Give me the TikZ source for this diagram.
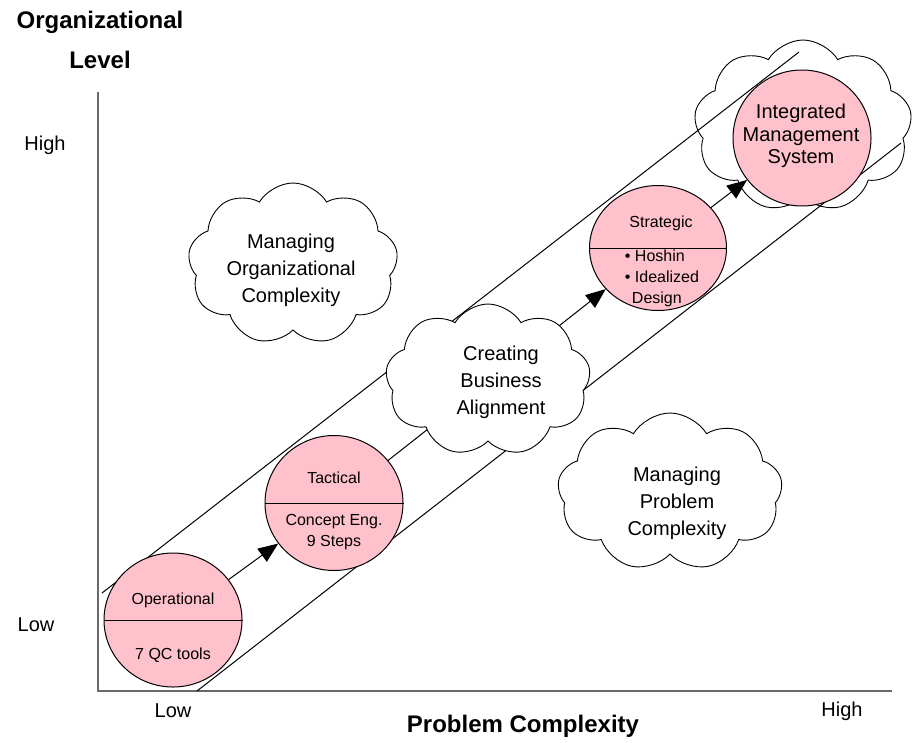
\documentclass[tikz,border=0pt]{standalone}
\usepackage{fontspec}
\setmainfont{Liberation Sans}
\usepackage{tikz}
\usetikzlibrary{shapes.geometric,shapes.symbols,arrows.meta}
\definecolor{stagepink}{RGB}{255,193,204}
\definecolor{axisgray}{RGB}{105,105,105}
\tikzset{
  stage/.style={draw,ellipse,fill=stagepink,line width=1pt,inner sep=0pt},
  puff/.style={draw,cloud,cloud puffs=9,cloud puff arc=118,cloud ignores aspect,fill=white,line width=0.9pt,inner sep=0pt},
  stagetext/.style={font=\fontsize{16}{21}\selectfont,align=center,inner sep=0pt},
  cloudtext/.style={font=\fontsize{20}{27}\selectfont,align=center,inner sep=0pt},
  ticktext/.style={font=\fontsize{20}{24}\selectfont,inner sep=0pt},
  axistitle/.style={font=\bfseries\fontsize{24}{29}\selectfont,inner sep=0pt},
}

\begin{document}
\begin{tikzpicture}[x=1pt,y=-1pt,>={Triangle[length=20pt,width=16pt]}]
  \useasboundingbox (0,0) rectangle (912,742);
  \coordinate (orig) at (98,691);
  \coordinate (ytop) at (98,92);
  \coordinate (xend) at (892,691);
  \coordinate (bandA1) at (102,593);
  \coordinate (bandA2) at (799,52);
  \coordinate (bandB1) at (197,691);
  \coordinate (bandB2) at (901,143);

  \draw[axisgray,line width=1.6pt] (ytop) -- (orig) -- (xend);
  \node[axistitle] (ylab1) at (100,22) {Organizational};
  \node[axistitle] (ylab2) at (100,60) {Level};
  \node[axistitle] (xlab) at (523,726) {Problem Complexity};
  \node[ticktext] (yhigh) at (45,145) {High};
  \node[ticktext] (ylow) at (36,625) {Low};
  \node[ticktext] (xlow) at (173,711) {Low};
  \node[ticktext] (xhigh) at (842,711) {High};

  \node[puff,minimum width=218pt,minimum height=172pt] (imsCloud) at (803,126) {};
  \draw[line width=1pt] (bandA1) -- (bandA2);
  \draw[line width=1pt] (bandB1) -- (bandB2);

  \node[stage,minimum width=138pt,minimum height=134pt] (op) at (173,620) {};
  \node[stage,minimum width=138pt,minimum height=135pt] (tac) at (334,503) {};
  \node[stage,minimum width=137pt,minimum height=125pt] (strat) at (658,248) {};
  \node[stage,minimum width=138pt,minimum height=136pt] (ims) at (802,138) {};
  \draw[line width=1pt] (op.west) -- (op.east);
  \draw[line width=1pt] (tac.west) -- (tac.east);
  \draw[line width=1pt] (strat.west) -- (strat.east);

  \node[stagetext] (opTop) at (173,600) {Operational};
  \node[stagetext] (opBot) at (173,655) {7 QC tools};
  \node[stagetext] (tacTop) at (334,478) {Tactical};
  \node[stagetext] (tacBot) at (334,532) {Concept Eng.\\9 Steps};
  \node[stagetext] (stratTop) at (661,223) {Strategic};
  \node[stagetext,align=left] (stratBot) at (662,278) {\textbullet\ Hoshin\\\textbullet\ Idealized\\\hspace{7pt}Design};
  \node[font=\fontsize{20}{22.5}\selectfont,align=center,inner sep=0pt] (imsText) at (801,136) {Integrated\\Management\\System};

  \draw[->,line width=1pt] (op) -- (tac);
  \draw[->,line width=1pt] (tac) -- (strat);
  \draw[->,line width=1pt] (strat) -- (ims);

  \node[puff,minimum width=205pt,minimum height=152pt] (alignCloud) at (488,380) {};
  \node[cloudtext] (alignText) at (501,382) {Creating\\Business\\Alignment};
  \node[puff,minimum width=210pt,minimum height=162pt] (orgCloud) at (293,264) {};
  \node[cloudtext] (orgText) at (291,270) {Managing\\Organizational\\Complexity};
  \node[puff,minimum width=225pt,minimum height=158pt] (probCloud) at (670,492) {};
  \node[cloudtext] (probText) at (677,503) {Managing\\Problem\\Complexity};
\end{tikzpicture}
\end{document}
